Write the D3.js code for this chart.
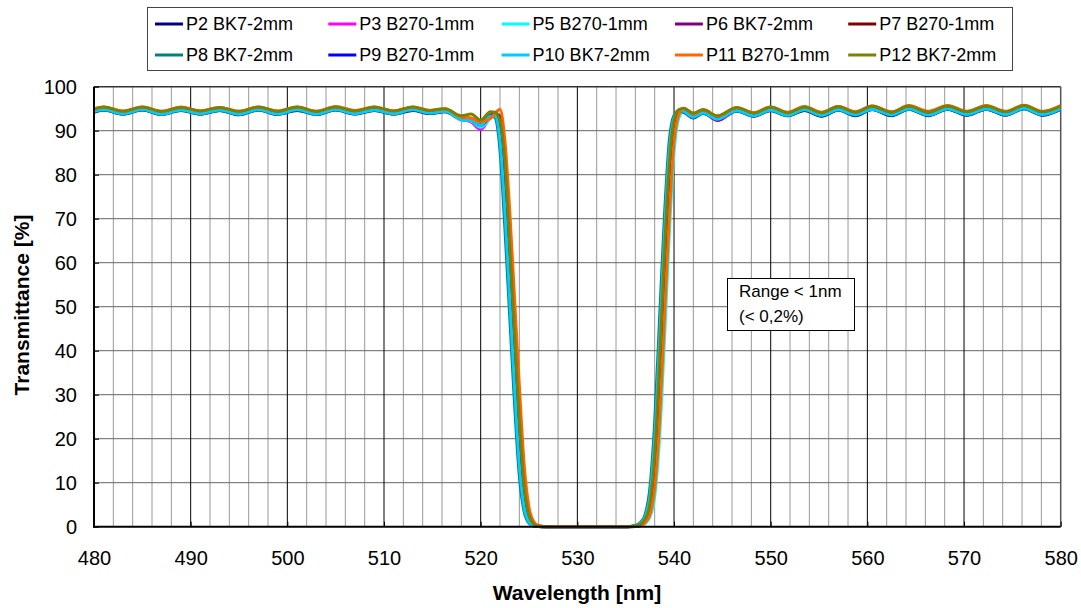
<!DOCTYPE html>
<html><head><meta charset="utf-8">
<script src="https://cdn.jsdelivr.net/npm/d3@7"></script>
<style>body{margin:0;background:#fff;} text{font-family:"Liberation Sans",Arial,sans-serif;}</style>
</head><body>
<script>
// ---- DATA ----
const wavelengths = [480, 481, 483, 485, 487, 489, 491, 493, 495, 497, 499, 501, 503, 505, 507, 509, 511, 513, 514.7, 516.3,
  518, 519, 520,
  521, 521.5, 522, 522.5, 523, 523.5, 524, 524.5, 525, 525.5, 526, 527,
  531, 535,
  535.5, 536, 536.5, 537, 537.5, 538, 538.5, 539, 539.5, 540, 540.5, 541,
  542, 543, 544.5,
  546.5, 548.25, 550, 551.75, 553.5, 555.25, 557, 558.75, 560.5, 562.5, 564.3, 566.3, 568.3, 570.3, 572.3, 574.3, 576.2, 578.1, 580];

const seriesNames = ["P2 BK7-2mm","P3 B270-1mm","P5 B270-1mm","P6 BK7-2mm","P7 B270-1mm",
                     "P8 BK7-2mm","P9 B270-1mm","P10 BK7-2mm","P11 B270-1mm","P12 BK7-2mm"];
const seriesColors = ["#000080","#FF00FF","#00FFFF","#800080","#800000","#008080","#0000FF","#00CCFF","#FF6600","#808000"];

const P2 = [94.2,
  94.7, 93.8, 94.7, 93.7, 94.6, 93.8, 94.6, 93.6, 94.7, 93.7, 94.6, 93.7, 94.7, 93.8, 94.6, 93.8, 94.6, 93.9, 94.3,
  92.5, 92.3, 91.4,
  93.3, 93.5, 87.8, 72, 52, 32, 14, 4.4, 1.1, 0.2, 0.03, 0,
  0, 0,
  0.05, 0.2, 0.7, 2.2, 6.8, 20, 42, 66, 85, 92.6, 94.3, 94.2,
  92.9, 94.0, 92.4,
  94.5, 93.3, 94.6, 93.4, 94.6, 93.3, 94.7, 93.4, 94.8, 93.4, 94.9, 93.4, 94.9, 93.5, 94.9, 93.5, 95.0, 93.5, 94.9];
const P3 = [94.6,
  95.0, 94.1, 95.0, 94.0, 95.0, 94.1, 94.9, 94.0, 95.0, 94.0, 95.0, 94.0, 95.0, 94.1, 94.9, 94.1, 95.0, 94.2, 94.6,
  92.6, 92.0, 90.3,
  93.0, 93.9, 89.8, 76, 56, 36, 16.8, 5.6, 1.5, 0.3, 0.04, 0,
  0, 0,
  0.02, 0.1, 0.4, 1.3, 4, 13, 32, 57, 79, 91, 94.3, 94.8,
  93.0, 94.1, 92.3,
  94.7, 93.6, 94.9, 93.7, 95.0, 93.7, 95.0, 93.8, 95.1, 93.8, 95.2, 93.8, 95.2, 93.9, 95.3, 93.9, 95.3, 93.9, 95.2];
const P5 = [94.5,
  94.9, 93.9, 94.9, 93.9, 94.8, 94.0, 94.8, 93.9, 94.9, 93.9, 94.9, 93.9, 94.9, 94.0, 94.9, 94.0, 94.9, 94.1, 94.5,
  92.5, 92.2, 90.8,
  92.8, 93.8, 91.5, 80, 60, 40, 20, 7, 2, 0.4, 0.05, 0,
  0, 0,
  0, 0.05, 0.15, 0.7, 2.2, 6.8, 20, 42, 66, 85, 92.9, 94.5,
  93.3, 94.0, 92.9,
  94.6, 93.5, 94.8, 93.6, 94.9, 93.6, 94.9, 93.7, 95.0, 93.7, 95.1, 93.7, 95.1, 93.8, 95.1, 93.8, 95.2, 93.8, 95.1];
const P6 = [94.6,
  95.0, 94.1, 95.1, 94.1, 95.0, 94.2, 95.0, 94.1, 95.1, 94.1, 95.0, 94.1, 95.1, 94.2, 95.0, 94.2, 95.1, 94.3, 94.7,
  92.8, 92.4, 91.3,
  93.2, 94.0, 91.5, 80, 60, 40, 20, 7, 2, 0.4, 0.05, 0,
  0, 0,
  0.02, 0.1, 0.4, 1.3, 4, 13, 32, 57, 79, 91, 94.3, 94.8,
  93.1, 94.2, 92.4,
  94.8, 93.6, 95.0, 93.8, 95.0, 93.8, 95.1, 93.9, 95.2, 93.9, 95.3, 93.9, 95.3, 94.0, 95.3, 94.0, 95.4, 94.0, 95.3];
const P7 = [94.8,
  95.1, 94.3, 95.2, 94.2, 95.1, 94.3, 95.1, 94.2, 95.2, 94.3, 95.1, 94.2, 95.2, 94.3, 95.1, 94.3, 95.2, 94.4, 94.8,
  93.0, 92.8, 91.9,
  93.0, 93.9, 93.2, 85.5, 68, 48, 28, 11.5, 3.4, 0.8, 0.15, 0,
  0, 0,
  0.01, 0.08, 0.3, 1.1, 3.3, 10.8, 27.8, 52, 74.6, 89.5, 94.0, 94.9,
  93.5, 94.5, 93.0,
  95.0, 93.9, 95.2, 94.0, 95.2, 94.0, 95.3, 94.1, 95.4, 94.1, 95.5, 94.1, 95.5, 94.2, 95.5, 94.2, 95.6, 94.2, 95.5];
const P8 = [94.3,
  94.7, 93.8, 94.8, 93.7, 94.7, 93.8, 94.6, 93.7, 94.7, 93.8, 94.7, 93.7, 94.8, 93.9, 94.7, 93.8, 94.7, 94.0, 94.4,
  92.6, 92.4, 91.5,
  93.6, 92.9, 85.5, 68, 48, 28, 11.5, 3.4, 0.8, 0.15, 0.02, 0,
  0, 0,
  0.06, 0.25, 0.9, 2.7, 8.7, 23.8, 47, 70.2, 87.5, 93.5, 94.6, 94.2,
  93.0, 93.9, 92.6,
  94.5, 93.4, 94.6, 93.4, 94.7, 93.4, 94.7, 93.5, 94.8, 93.5, 94.9, 93.5, 94.9, 93.6, 94.9, 93.6, 95.0, 93.6, 94.9];
const P9 = [94.5,
  94.9, 94.0, 94.9, 93.9, 94.9, 94.0, 94.8, 93.9, 94.9, 94.0, 94.9, 93.9, 95.0, 94.1, 94.9, 94.0, 94.9, 94.1, 94.6,
  92.7, 92.5, 91.5,
  93.3, 93.9, 89.8, 76, 56, 36, 16.8, 5.6, 1.5, 0.3, 0.04, 0,
  0, 0,
  0.03, 0.15, 0.5, 1.7, 5.2, 16.3, 37, 61.6, 82, 92.1, 94.5, 94.6,
  93.3, 94.3, 92.7,
  94.8, 93.5, 94.9, 93.6, 95.0, 93.6, 95.0, 93.6, 95.1, 93.7, 95.1, 93.7, 95.2, 93.7, 95.2, 93.8, 95.2, 93.8, 95.1];
const P10 = [94.4,
  94.8, 93.9, 94.8, 93.8, 94.7, 93.9, 94.7, 93.8, 94.8, 93.8, 94.8, 93.8, 94.8, 93.9, 94.7, 93.9, 94.8, 94.0, 94.4,
  92.5, 92.3, 91.3,
  93.3, 93.4, 87.8, 72, 52, 32, 14, 4.4, 1.1, 0.2, 0.03, 0,
  0, 0,
  0.05, 0.2, 0.7, 2.2, 6.8, 20, 42, 66, 85, 92.9, 94.6, 94.4,
  93.1, 94.1, 92.6,
  94.6, 93.4, 94.7, 93.5, 94.8, 93.5, 94.8, 93.6, 94.9, 93.6, 95.0, 93.6, 95.0, 93.7, 95.0, 93.7, 95.1, 93.7, 95.0];
const P11 = [95.0,
  95.4, 94.5, 95.4, 94.4, 95.4, 94.5, 95.3, 94.4, 95.4, 94.5, 95.4, 94.4, 95.5, 94.6, 95.4, 94.5, 95.4, 94.6, 95.0,
  93.1, 92.9, 92.0,
  92.8, 94.0, 94.9, 87.8, 72, 52, 32, 14, 4.4, 1.1, 0.2, 0,
  0, 0,
  0.01, 0.06, 0.2, 0.9, 2.7, 8.7, 23.8, 47, 70.2, 87.5, 93.7, 95.1,
  93.8, 94.7, 93.3,
  95.2, 94.1, 95.4, 94.2, 95.5, 94.2, 95.5, 94.3, 95.6, 94.3, 95.7, 94.4, 95.7, 94.4, 95.7, 94.4, 95.8, 94.4, 95.7];
const P12 = [94.9,
  95.4, 94.4, 95.4, 94.4, 95.3, 94.5, 95.3, 94.4, 95.4, 94.4, 95.4, 94.4, 95.4, 94.5, 95.4, 94.5, 95.4, 94.6, 95.0,
  93.4, 93.8, 92.4,
  94.3, 94.2, 92.3, 82.9, 64, 44, 24, 9.1, 2.6, 0.6, 0.1, 0,
  0, 0,
  0.03, 0.15, 0.5, 1.7, 5.2, 16.3, 37, 61.6, 82, 92.3, 94.8, 95.1,
  94.0, 94.8, 93.4,
  95.3, 94.0, 95.4, 94.1, 95.4, 94.1, 95.5, 94.2, 95.6, 94.2, 95.6, 94.2, 95.6, 94.3, 95.6, 94.3, 95.7, 94.3, 95.6];

const seriesValues = [P2, P3, P5, P6, P7, P8, P9, P10, P11, P12];

const xTickValues = [480, 490, 500, 510, 520, 530, 540, 550, 560, 570, 580];
const yTickValues = [0, 10, 20, 30, 40, 50, 60, 70, 80, 90, 100];
const xMinorGrid = [482,484,486,488,492,494,496,498,502,504,506,508,512,514,516,518,522,524,526,528,
                    532,534,536,538,542,544,546,548,552,554,556,558,562,564,566,568,572,574,576,578];
const noteLines = ["Range < 1nm", "(< 0,2%)"];

// ---- CHART ----
const W = 1081, H = 608;
const L = 94, R = 1060.7, T = 86.7, B = 526.7;
const svg = d3.select("body").append("svg").attr("width", W).attr("height", H);
const x = d3.scaleLinear().domain([480, 580]).range([L, R]);
const y = d3.scaleLinear().domain([0, 100]).range([B, T]);

// grid
const grid = svg.append("g");
grid.selectAll("line.minor").data(xMinorGrid).enter().append("line")
  .attr("x1", d => x(d)).attr("x2", d => x(d)).attr("y1", T).attr("y2", B)
  .attr("stroke", "#999").attr("stroke-width", 1);
grid.selectAll("line.hgrid").data(yTickValues.filter(v => v > 0 && v < 100)).enter().append("line")
  .attr("x1", L).attr("x2", R).attr("y1", d => y(d)).attr("y2", d => y(d))
  .attr("stroke", "#666").attr("stroke-width", 1);
grid.selectAll("line.major").data(xTickValues.filter(v => v > 480 && v < 580)).enter().append("line")
  .attr("x1", d => x(d)).attr("x2", d => x(d)).attr("y1", T).attr("y2", B)
  .attr("stroke", "#000").attr("stroke-width", 1);

// border top/right
svg.append("line").attr("x1", L).attr("x2", R).attr("y1", T).attr("y2", T).attr("stroke", "#333").attr("stroke-width", 1.5);
svg.append("line").attr("x1", R).attr("x2", R).attr("y1", T).attr("y2", B).attr("stroke", "#555").attr("stroke-width", 1.5);

// series
svg.append("clipPath").attr("id", "clip").append("rect")
  .attr("x", L).attr("y", T - 2).attr("width", R - L).attr("height", B - T + 4);
const line = d3.line().x(d => x(d[0])).y(d => y(d[1])).curve(d3.curveMonotoneX);
const lines = svg.append("g").attr("clip-path", "url(#clip)");
seriesValues.forEach((vals, i) => {
  if (vals.length !== wavelengths.length) console.error("length mismatch", seriesNames[i], vals.length);
  lines.append("path").datum(wavelengths.map((w, k) => [w, vals[k]]))
    .attr("d", line).attr("fill", "none")
    .attr("stroke", seriesColors[i]).attr("stroke-width", 3).attr("stroke-linejoin", "round");
});

// axes
const xAxis = d3.axisBottom(x).tickValues(xTickValues).tickSize(-5).tickPadding(24).tickFormat(d3.format("d"));
const gx = svg.append("g").attr("transform", `translate(0,${B})`).call(xAxis);
gx.select(".domain").remove();
gx.selectAll("text").attr("font-size", 20).attr("fill", "#000").style("font-family", "Liberation Sans, Arial, sans-serif");
gx.selectAll("line").attr("stroke", "#000");
const yAxis = d3.axisLeft(y).tickValues(yTickValues).tickSize(-5).tickPadding(17).tickFormat(d3.format("d"));
const gy = svg.append("g").attr("transform", `translate(${L},0)`).call(yAxis);
gy.select(".domain").remove();
gy.selectAll("text").attr("font-size", 20).attr("fill", "#000").style("font-family", "Liberation Sans, Arial, sans-serif");
gy.selectAll("line").attr("stroke", "#000");

svg.append("line").attr("x1", L).attr("x2", L).attr("y1", T).attr("y2", B + 1).attr("stroke", "#000").attr("stroke-width", 2);
svg.append("line").attr("x1", L - 1).attr("x2", R).attr("y1", B).attr("y2", B).attr("stroke", "#000").attr("stroke-width", 2);

// axis titles
svg.append("text").attr("x", 577).attr("y", 600).attr("text-anchor", "middle")
  .attr("font-size", 21).attr("font-weight", "bold").text("Wavelength [nm]");
svg.append("text").attr("transform", `translate(29,${305}) rotate(-90)`).attr("text-anchor", "middle")
  .attr("font-size", 21).attr("font-weight", "bold").text("Transmittance [%]");

// legend
const lg = svg.append("g");
lg.append("rect").attr("x", 147.5).attr("y", 7.5).attr("width", 865).attr("height", 63)
  .attr("fill", "#fff").attr("stroke", "#444").attr("stroke-width", 1);
seriesNames.forEach((name, i) => {
  const col = i % 5, row = Math.floor(i / 5);
  const lx = 155 + col * 173.3, ly = 24 + row * 31;
  lg.append("line").attr("x1", lx).attr("x2", lx + 28).attr("y1", ly).attr("y2", ly)
    .attr("stroke", seriesColors[i]).attr("stroke-width", 3);
  lg.append("text").attr("x", lx + 31).attr("y", ly).attr("dy", "0.35em")
    .attr("font-size", 18).text(name);
});

// note box
const ng = svg.append("g");
ng.append("rect").attr("x", 727.5).attr("y", 278.5).attr("width", 127).attr("height", 52)
  .attr("fill", "#fff").attr("stroke", "#000").attr("stroke-width", 1);
noteLines.forEach((t, i) => {
  ng.append("text").attr("x", 739).attr("y", 297 + i * 25).attr("font-size", 17).text(t);
});
</script>
</body></html>
